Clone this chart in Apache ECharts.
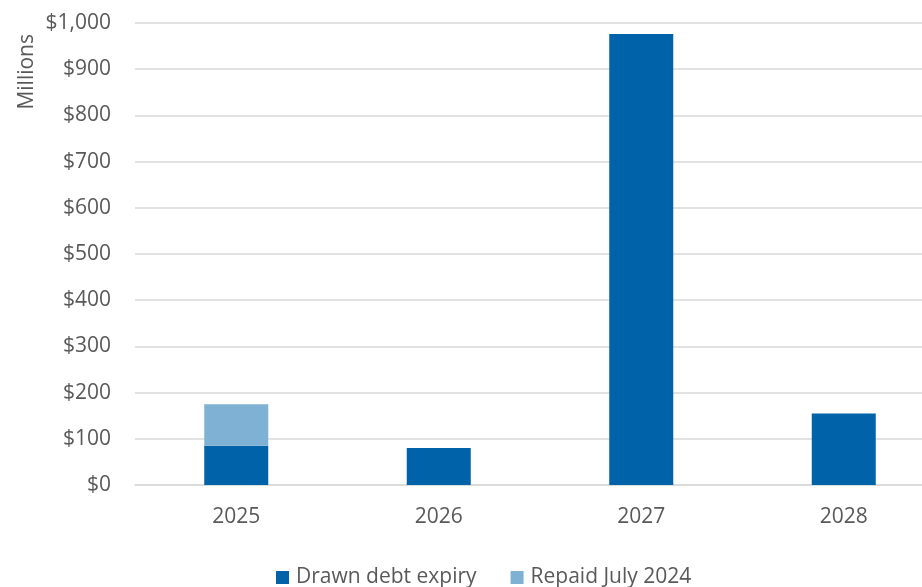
<!DOCTYPE html>
<html><head><meta charset="utf-8">
<script src="https://cdn.jsdelivr.net/npm/echarts@6/dist/echarts.min.js"></script>
<style>html,body{margin:0;padding:0;background:#fff}#c{width:922px;height:587px}</style>
</head><body><div id="c"></div>
<script>
const categories = ['2025', '2026', '2027', '2028'];
const drawnDebt = [85, 80, 976, 155];
const repaidJuly2024 = [90, null, null, null];
const yTicks = [0, 100, 200, 300, 400, 500, 600, 700, 800, 900, 1000];

const chart = echarts.init(document.getElementById('c'), null, {renderer: 'canvas'});
const font = '"Open Sans", "Liberation Sans", sans-serif';
chart.setOption({
  animation: false,
  grid: {left: 135, top: 23, width: 810, height: 462, containLabel: false, outerBoundsMode: 'none'},
  legend: {
    bottom: -6, left: 271,
    itemWidth: 13, itemHeight: 13, itemGap: 34,
    icon: 'rect',
    textStyle: {color: '#595959', fontSize: 21, fontFamily: font, padding: [0, 0, 0, 2]},
    data: ['Drawn debt expiry', 'Repaid July 2024']
  },
  xAxis: {
    type: 'category', data: categories,
    axisLine: {lineStyle: {color: '#D9D9D9', width: 1.5}},
    axisTick: {show: false},
    axisLabel: {color: '#595959', fontSize: 21, fontFamily: font, margin: 22}
  },
  yAxis: {
    type: 'value', min: yTicks[0], max: yTicks[yTicks.length - 1], interval: 100,
    name: 'Millions', nameLocation: 'end', nameRotate: 90,
    nameGap: 0,
    nameTextStyle: {color: '#595959', fontSize: 21, fontFamily: font, align: 'right', verticalAlign: 'bottom', padding: [0, 11, 97, 0]},
    axisLine: {show: false}, axisTick: {show: false},
    splitLine: {lineStyle: {color: '#D9D9D9', width: 1.5}},
    axisLabel: {color: '#595959', fontSize: 21, fontFamily: font, margin: 24,
      formatter: v => '$' + v.toLocaleString('en-US')}
  },
  series: [
    {name: 'Drawn debt expiry', type: 'bar', stack: 'a', data: drawnDebt, barWidth: 64,
     itemStyle: {color: '#0062A8'}},
    {name: 'Repaid July 2024', type: 'bar', stack: 'a', data: repaidJuly2024, barWidth: 64,
     itemStyle: {color: '#7FB1D4'}}
  ]
});
</script></body></html>
